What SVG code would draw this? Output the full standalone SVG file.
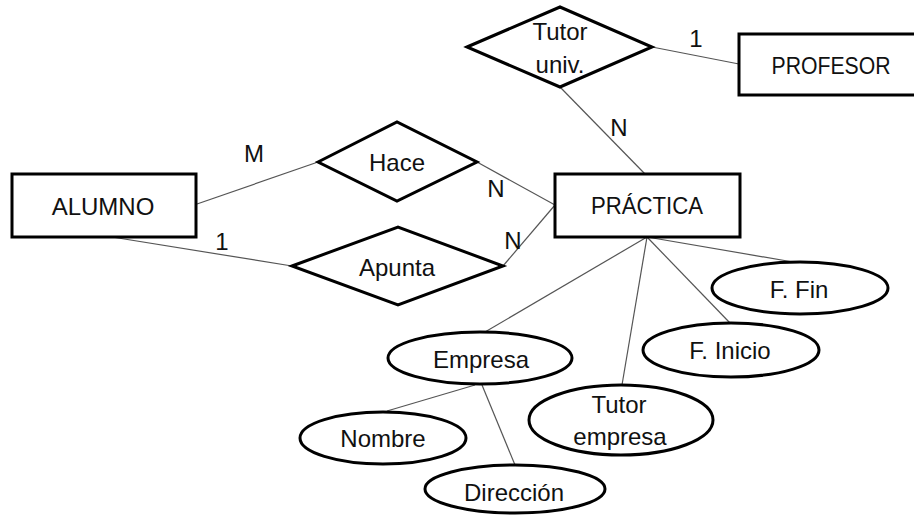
<svg xmlns="http://www.w3.org/2000/svg" width="914" height="515" viewBox="0 0 914 515">
<style>
.shape{fill:#fff;stroke:#000;stroke-width:3}
.conn{stroke:#555;stroke-width:1.2;fill:none}
text{font-family:"Liberation Sans",Arial,sans-serif;font-size:24px;fill:#111;text-anchor:middle}
</style>
<rect width="914" height="515" fill="#fff"/>
<g id="connectors">
<line class="conn" x1="197" y1="204" x2="318" y2="162"/>
<line class="conn" x1="112" y1="237" x2="292" y2="266"/>
<line class="conn" x1="477" y1="162" x2="555" y2="205"/>
<line class="conn" x1="503" y1="266" x2="555" y2="205"/>
<line class="conn" x1="560" y1="87" x2="645" y2="174"/>
<line class="conn" x1="652" y1="47" x2="739" y2="64"/>
<line class="conn" x1="647" y1="237" x2="793" y2="262"/>
<line class="conn" x1="647" y1="237" x2="730" y2="323"/>
<line class="conn" x1="647" y1="237" x2="622" y2="385"/>
<line class="conn" x1="647" y1="237" x2="485" y2="332"/>
<line class="conn" x1="475" y1="385" x2="387" y2="411"/>
<line class="conn" x1="482" y1="385" x2="515" y2="465"/>
<text x="254" y="162">M</text>
<text x="222" y="250">1</text>
<text x="496" y="197">N</text>
<text x="513" y="249">N</text>
<text x="619" y="136">N</text>
<text x="696" y="47">1</text>
</g>
<g id="alumno">
<rect class="shape" x="12" y="174" width="184" height="63"/>
<text x="103" y="215">ALUMNO</text>
</g>
<g id="practica">
<rect class="shape" x="555" y="174" width="185" height="63"/>
<text x="647" y="214" textLength="112" lengthAdjust="spacingAndGlyphs">PRÁCTICA</text>
</g>
<g id="profesor">
<rect class="shape" x="739" y="34" width="180" height="61"/>
<text x="831" y="74" textLength="119" lengthAdjust="spacingAndGlyphs">PROFESOR</text>
</g>
<g id="tutor-univ">
<polygon class="shape" points="467,47 560,7 652,47 560,87"/>
<text x="560" y="40">Tutor</text>
<text x="560" y="73">univ.</text>
</g>
<g id="hace">
<polygon class="shape" points="318,162 397,122 477,162 397,201"/>
<text x="397" y="171">Hace</text>
</g>
<g id="apunta">
<polygon class="shape" points="292,266 398,227 503,266 398,305"/>
<text x="397" y="276">Apunta</text>
</g>
<g id="f-fin">
<ellipse class="shape" cx="800" cy="288" rx="88" ry="26"/>
<text x="799" y="298">F. Fin</text>
</g>
<g id="f-inicio">
<ellipse class="shape" cx="731" cy="350" rx="88" ry="27"/>
<text x="730" y="359">F. Inicio</text>
</g>
<g id="tutor-empresa">
<ellipse class="shape" cx="621" cy="420" rx="92" ry="35"/>
<text x="619" y="413">Tutor</text>
<text x="620" y="445">empresa</text>
</g>
<g id="empresa">
<ellipse class="shape" cx="480" cy="358" rx="92" ry="26"/>
<text x="481" y="368">Empresa</text>
</g>
<g id="nombre">
<ellipse class="shape" cx="383" cy="438" rx="83" ry="26"/>
<text x="383" y="447">Nombre</text>
</g>
<g id="direccion">
<ellipse class="shape" cx="515" cy="489" rx="90" ry="24"/>
<text x="514" y="501">Dirección</text>
</g>
</svg>
